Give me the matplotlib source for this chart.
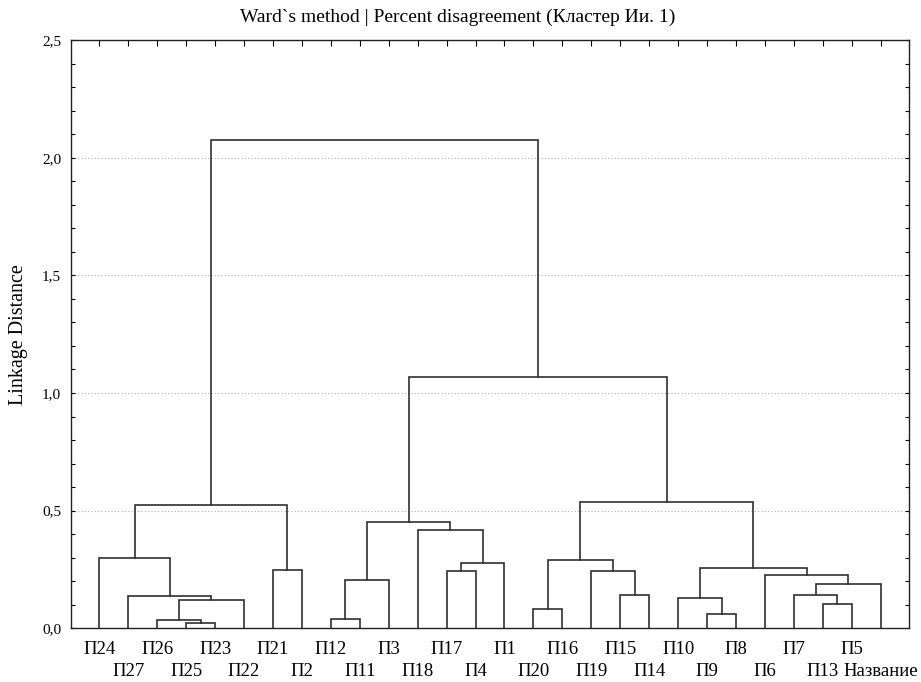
import matplotlib.pyplot as plt
from matplotlib.ticker import MultipleLocator, FuncFormatter

# листья в порядке дендрограммы
leaves = ["П24", "П27", "П26", "П25", "П23", "П22", "П21", "П2", "П12", "П11",
          "П3", "П18", "П17", "П4", "П1", "П20", "П16", "П19", "П15", "П14",
          "П10", "П9", "П8", "П6", "П7", "П13", "П5", "Название"]

# объединения: левый / правый узел (имя листа или номер объединения) и высота
merge_left = ["П25", "П26", 1, "П27", "П24", "П21", 4,
              "П12", 7, "П17", 9, "П18", 8,
              "П20", "П15", "П19", 13,
              "П9", "П10", "П13", "П7", 20, "П6", 18, 16, 12, 6]
merge_right = ["П23", 0, "П22", 2, 3, "П2", 5,
               "П11", "П3", "П4", "П1", 10, 11,
               "П16", "П14", 14, 15,
               "П8", 17, "П5", 19, "Название", 21, 22, 23, 24, 25]
merge_height = [0.021, 0.035, 0.120, 0.137, 0.300, 0.247, 0.522,
                0.040, 0.205, 0.245, 0.278, 0.417, 0.452,
                0.081, 0.143, 0.244, 0.292,
                0.062, 0.130, 0.102, 0.143, 0.188, 0.228, 0.256, 0.535, 1.067, 2.075]

plt.rcParams['font.family'] = ['Liberation Serif', 'DejaVu Serif']

fig = plt.figure(figsize=(9.21, 6.82), dpi=100)
ax = fig.add_axes([0.0771, 0.0787, 0.9099, 0.8626])

pos = {}
hgt = {}
for i, name in enumerate(leaves):
    pos[name] = i
    hgt[name] = 0.0

line_color = "#303030"
for k, (a, b, h) in enumerate(zip(merge_left, merge_right, merge_height)):
    xa, xb = pos[a], pos[b]
    ax.plot([xa, xa, xb, xb], [hgt[a], h, h, hgt[b]],
            color=line_color, lw=1.2, solid_joinstyle="miter")
    pos[k] = (xa + xb) / 2
    hgt[k] = h

ax.set_xlim(-0.98, 27.98)
ax.set_ylim(0, 2.5)

ax.yaxis.set_major_locator(MultipleLocator(0.5))
ax.yaxis.set_minor_locator(MultipleLocator(0.1))
ax.yaxis.set_major_formatter(FuncFormatter(lambda v, p: f"{v:.1f}".replace(".", ",")))
ax.tick_params(axis="y", which="both", direction="in", left=True, right=True,
               length=3, width=0.8, labelsize=11, pad=7)

for g in [0.5, 1.0, 1.5, 2.0]:
    ax.axhline(g, color="#b0b0b0", lw=0.8, ls=(0, (1, 2)), zorder=0)

ax.set_xticks(range(len(leaves)))
ax.set_xticklabels([])
ax.tick_params(axis="x", which="both", direction="in", bottom=False, top=True,
               length=4, width=0.8)

for i, name in enumerate(leaves):
    off = -9 if i % 2 == 0 else -25
    ax.annotate(name, xy=(i, 0), xycoords=("data", "axes fraction"),
                xytext=(0, off), textcoords="offset points",
                ha="center", va="top", fontsize=13.5)

for s in ax.spines.values():
    s.set_linewidth(1.0)
    s.set_color("#202020")

ax.set_ylabel("Linkage Distance", fontsize=14.5, labelpad=10)
fig.suptitle("Ward`s method | Percent disagreement (Кластер Ии. 1)",
             fontsize=14, x=0.497, y=1 - 17 / 682, va="center")

plt.savefig("out.png", dpi=100)
